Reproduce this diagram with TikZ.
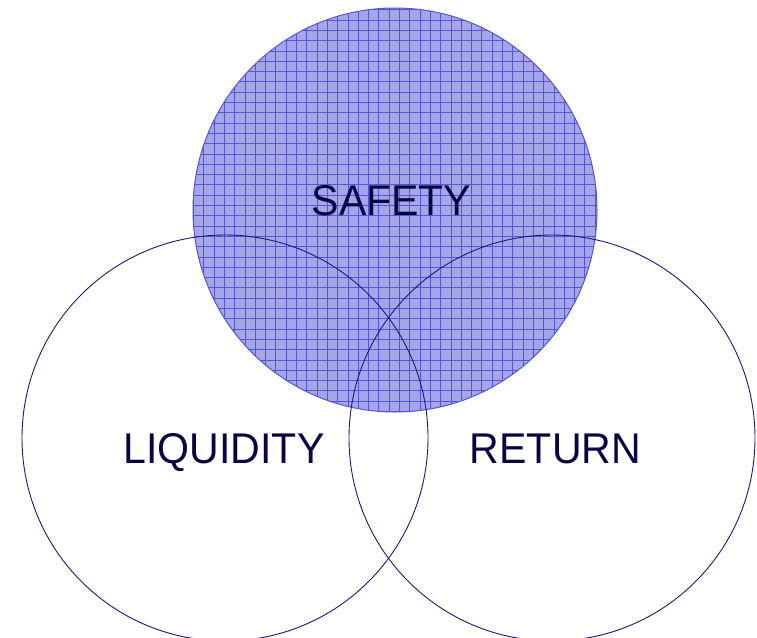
\documentclass[tikz,border=0pt]{standalone}
\usepackage{fontspec}
\setmainfont{Liberation Sans}
\definecolor{navyline}{RGB}{25,25,120}
\definecolor{navytext}{RGB}{5,5,70}
\definecolor{safefill}{RGB}{165,165,234}
\definecolor{gridblue}{RGB}{85,85,215}
\tikzset{
  ring/.style={draw=navyline, line width=0.9pt},
  label/.style={font=\fontsize{43}{43}\selectfont, text=navytext, xscale=0.955, inner sep=0pt, anchor=base}
}
\begin{document}
\begin{tikzpicture}[x=1pt,y=-1pt]
\useasboundingbox (0,0) rectangle (757,637);
% SAFETY circle with grid fill
\fill[safefill] (395,210) circle[radius=202];
\begin{scope}
  \clip (395,210) circle[radius=202];
  \foreach \i in {-6,...,38} {
    \draw[gridblue, line width=0.8pt] ({224.3+10.3*\i},0) -- ({224.3+10.3*\i},420);
  }
  \foreach \i in {-14,...,28} {
    \draw[gridblue, line width=0.8pt] (180,{133.3+10.3*\i}) -- (610,{133.3+10.3*\i});
  }
\end{scope}
\draw[gridblue, line width=1pt] (395,210) circle[radius=202];
% other circles
\draw[ring] (225,438) circle[radius=203];
\draw[ring] (552,438) circle[radius=203];
% labels
\node[label] (safety) at (391.5,215) {SAFETY};
\node[label] (liquidity) at (224,463) {LIQUIDITY};
\node[label] (return) at (555.5,463) {RETURN};
\end{tikzpicture}
\end{document}
